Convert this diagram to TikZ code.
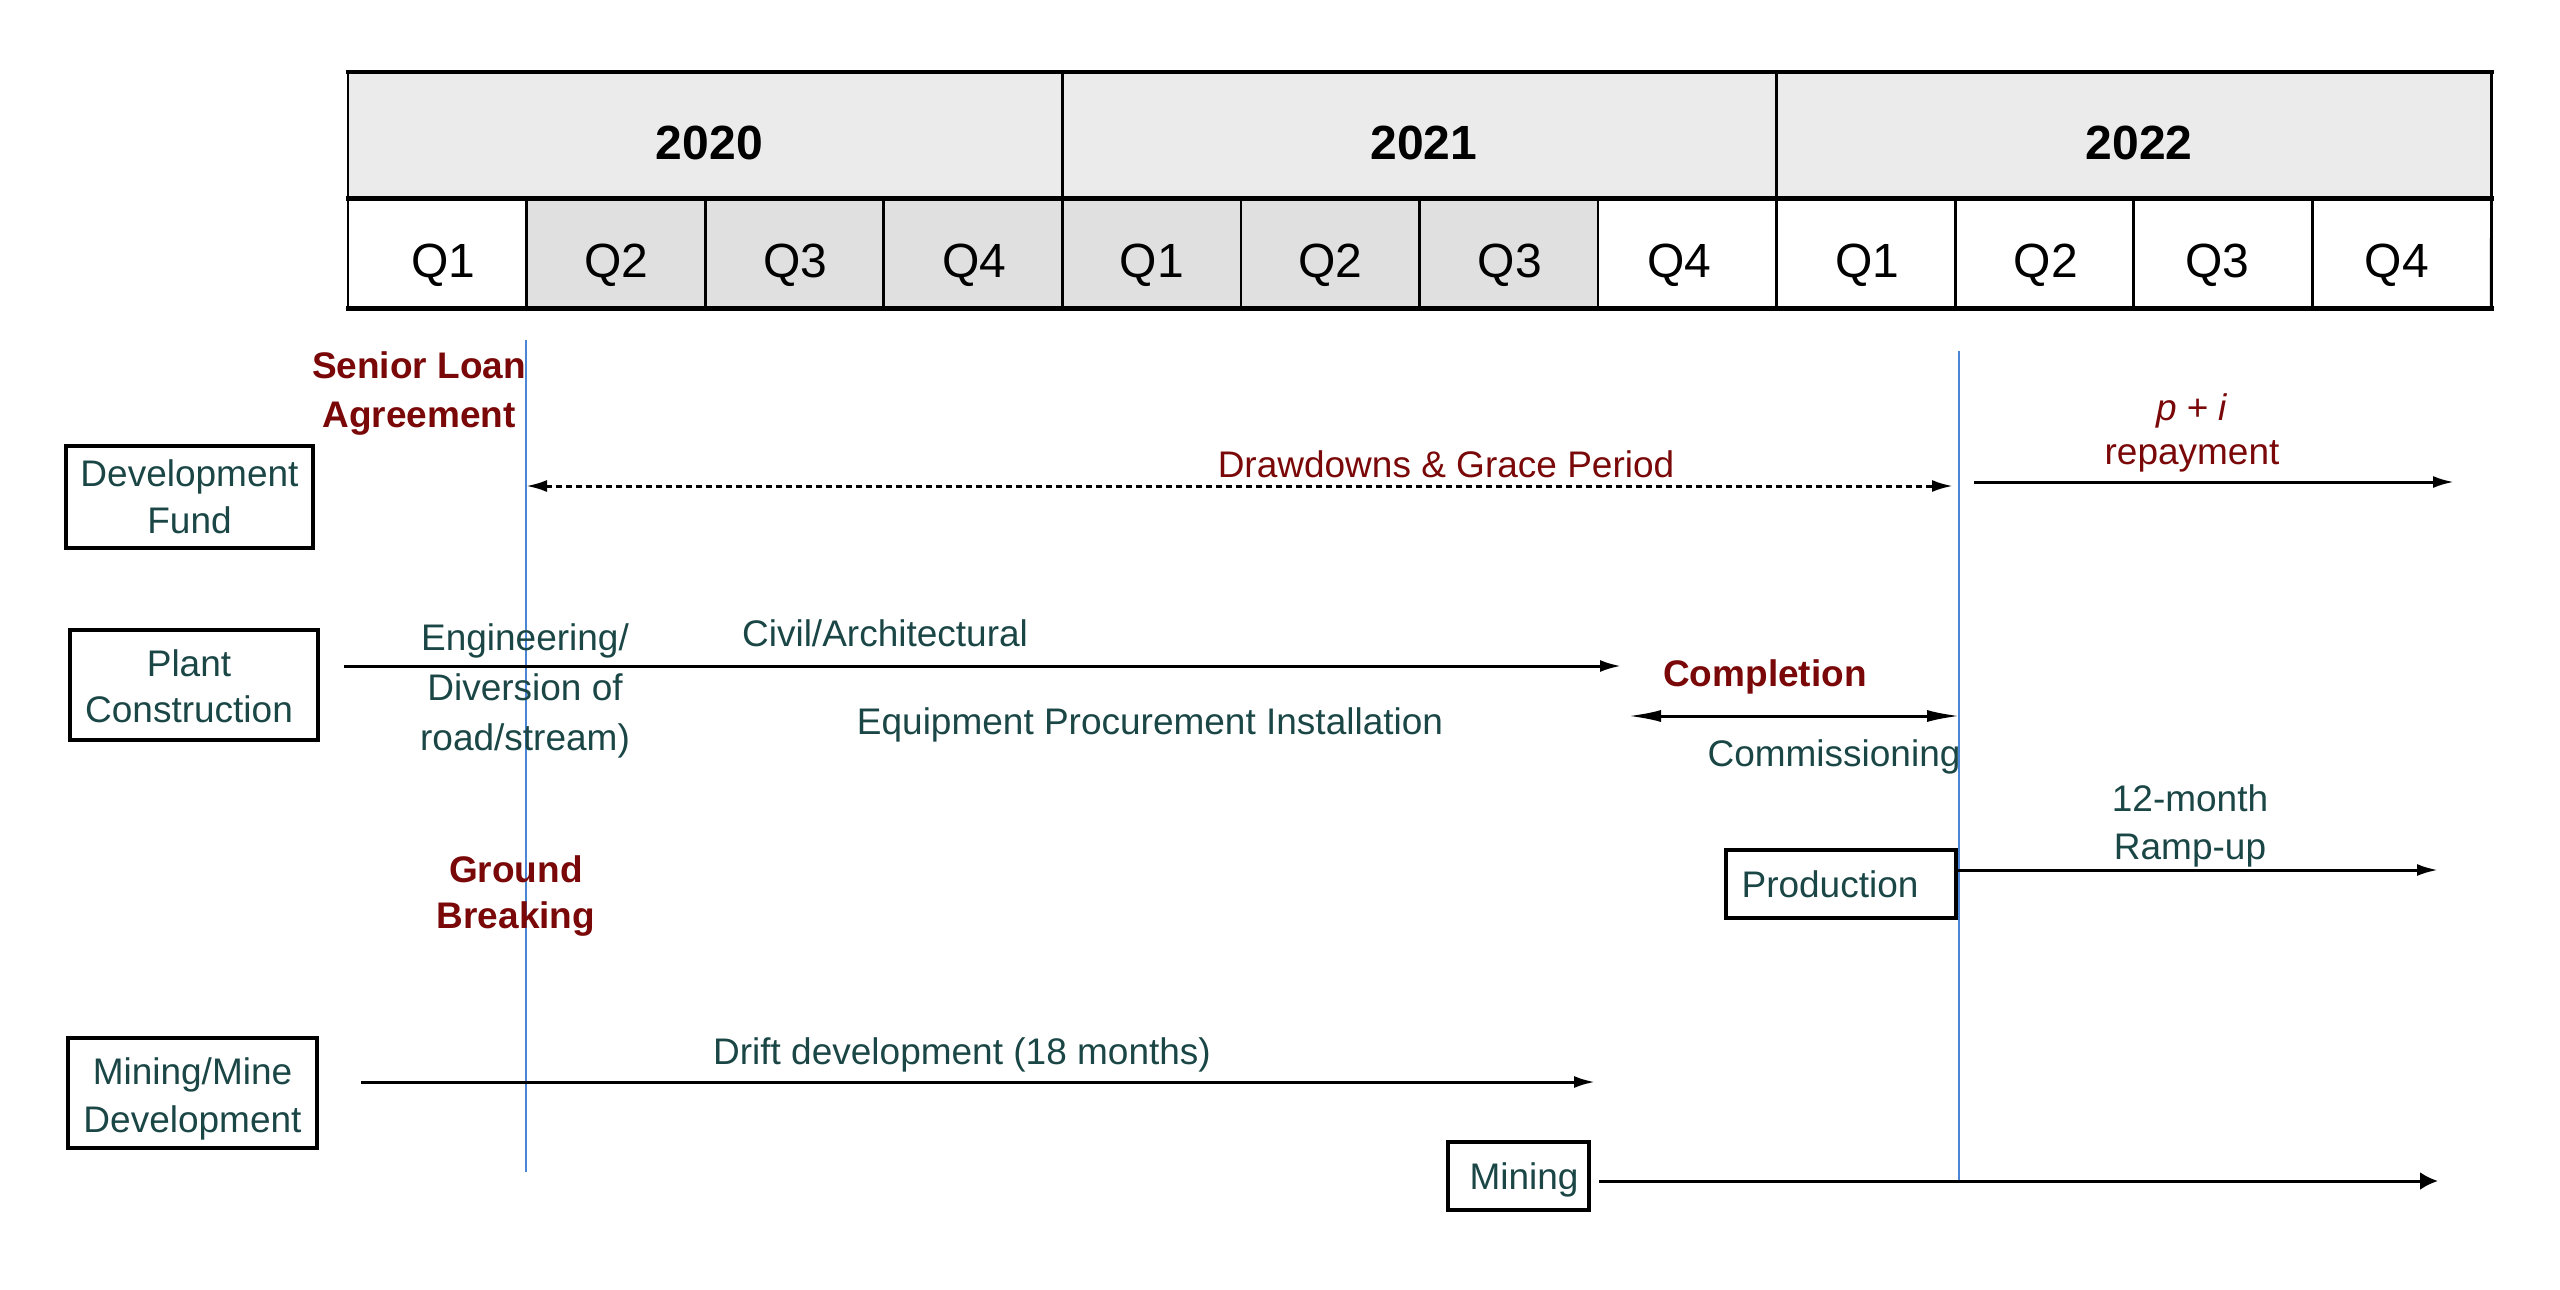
\documentclass[tikz,border=0pt]{standalone}
\usepackage{fontspec}
\setmainfont{Liberation Sans}
\usetikzlibrary{arrows.meta,calc}
\definecolor{teal1}{HTML}{1B4646}
\definecolor{dred}{HTML}{7A0808}
\definecolor{bline}{HTML}{4A85D6}
\definecolor{yfill}{HTML}{EBEBEB}
\definecolor{qfill}{HTML}{E0E0E0}
\begin{document}
\begin{tikzpicture}[x=1pt,y=-1pt,
  bodyfont/.style={font=\fontsize{37}{46}\selectfont},
  txt/.style={bodyfont, text=teal1, inner sep=0pt, align=center},
  redtxt/.style={bodyfont, text=dred, inner sep=0pt, align=center},
  redbold/.style={text=dred, inner sep=0pt, align=center, font=\fontsize{37}{49}\selectfont\bfseries},
  box/.style={draw=black, line width=3.5pt, text=teal1, inner sep=0pt, align=center},
  ycell/.style={inner sep=0pt, anchor=north west, minimum width=714.33pt, minimum height=126pt, fill=yfill},
  qcell/.style={inner sep=0pt, anchor=north west, minimum width=178.58pt, minimum height=110pt},
  ylabel/.style={inner sep=0pt, font=\fontsize{48}{58}\selectfont\bfseries},
  qlabel/.style={inner sep=0pt, font=\fontsize{48}{58}\selectfont},
  hline/.style={line width=4.5pt, line cap=rect},
  vline/.style={line width=2.8pt},
  blueline/.style={draw=bline, line width=2pt},
  arr/.style={line width=3pt, -{Latex[length=21pt,width=12pt]}},
  bigarr/.style={line width=3pt, -{Latex[length=18pt,width=18pt]}},
  dblarr/.style={line width=3pt, {Latex[length=33pt,width=12pt]}-{Latex[length=33pt,width=12pt]}},
  dotarr/.style={line width=3pt, dash pattern=on 6pt off 4pt, {Latex[length=21pt,width=12pt]}-{Latex[length=21pt,width=12pt]}}
]
\useasboundingbox (0,0) rectangle (2560,1290);

% header
\node[ycell] (y2020) at (348,72) {};
\node[ycell] (y2021) at (1062.33,72) {};
\node[ycell] (y2022) at (1776.67,72) {};
\foreach \i/\f in {1/white,2/qfill,3/qfill,4/qfill,5/qfill,6/qfill,7/qfill,8/white,9/white,10/white,11/white,12/white}
  \node[qcell, fill=\f] (q\i) at ({348+(\i-1)*178.58},198) {};
\node[ylabel] (yl2020) at ($(y2020.center)+(4,8)$) {2020};
\node[ylabel] (yl2021) at ($(y2021.center)+(4,8)$) {2021};
\node[ylabel] (yl2022) at ($(y2022.center)+(5,8)$) {2022};
\foreach \i/\l/\dx in {1/Q1/6,2/Q2/0,3/Q3/1,4/Q4/1,5/Q1/0,6/Q2/0,7/Q3/1,8/Q4/-8,9/Q1/1,10/Q2/1,11/Q3/-6,12/Q4/-5}
  \node[qlabel] (ql\i) at ($(q\i.center)+(\dx,12)$) {\l};
\foreach \i in {2,...,12}
  \draw[vline] (q\i.north west) -- (q\i.south west);
\draw[vline] (y2021.north west) -- (y2021.south west);
\draw[vline] (y2022.north west) -- (y2022.south west);
\draw[vline] (y2020.north west) -- (q1.south west);
\draw[vline] (y2022.north east) -- (q12.south east);
\draw[hline] (y2020.north west) -- (y2022.north east);
\draw[hline] (y2020.south west) -- (y2022.south east);
\draw[hline] (q1.south west) -- (q12.south east);

% milestone lines
\coordinate (sla) at (526,340);
\coordinate (slb) at (526,1172);
\coordinate (cpa) at (1959,351);
\coordinate (cpb) at (1959,1181);
\draw[blueline] (sla) -- (slb);
\draw[blueline] (cpa) -- (cpb);

% row boxes
\node[box, font=\fontsize{37}{47}\selectfont, minimum width=247pt, minimum height=102pt] (devfund) at (189.5,497) {Development\\Fund};
\node[box, minimum width=248pt, minimum height=110pt] (plant) at (194,685) {};
\node[txt] (planttxt) at (189,686) {Plant\\Construction};
\node[box, minimum width=249pt, minimum height=110pt] (minedev) at (192.5,1093) {};
\node[txt, font=\fontsize{37}{48}\selectfont] (minedevtxt) at (192.5,1099) {Mining/Mine\\Development};
\node[box, minimum width=230pt, minimum height=68pt] (prod) at (1841,884) {};
\node[txt] (prodtxt) at (1830,884) {Production};
\node[box, minimum width=141pt, minimum height=68pt] (mining) at (1518.5,1176) {};
\node[txt] (miningtxt) at (1524,1180) {Mining};

% labels
\node[redbold] (senior) at (419,394) {Senior Loan\\Agreement};
\node[redtxt] (draw) at (1446,464) {Drawdowns \& Grace Period};
\node[redtxt, font=\fontsize{37}{44}\selectfont] (pi) at (2192,433) {\textit{p} + \textit{i}\\repayment};
\node[txt, font=\fontsize{37}{50}\selectfont] (eng) at (525,691) {Engineering/\\Diversion of\\road/stream)};
\node[txt] (civil) at (885,633) {Civil/Architectural};
\node[txt] (equip) at (1150,725) {Equipment Procurement Installation};
\node[redbold] (compl) at (1765,677) {Completion};
\node[txt] (comm) at (1834,757) {Commissioning};
\node[txt, font=\fontsize{37}{48}\selectfont] (ramp) at (2190,826) {12-month\\Ramp-up};
\node[redbold, font=\fontsize{37}{46}\selectfont\bfseries] (ground) at (516,896) {Ground\\Breaking};
\node[txt] (drift) at (962,1055) {Drift development (18 months)};

% arrows
\coordinate (dd1) at (526,486);
\coordinate (dd2) at (1953,486);
\draw[dotarr] (dd1) -- (dd2);
\coordinate (rp1) at (1974,482);
\coordinate (rp2) at (2454,482);
\draw[arr] (rp1) -- (rp2);
\coordinate (pc1) at (344,666);
\coordinate (pc2) at (1621,666);
\draw[arr] (pc1) -- (pc2);
\coordinate (cm1) at (1628,716);
\coordinate (cm2) at (1960,716);
\draw[dblarr] (cm1) -- (cm2);
\coordinate (ru1) at (1958,870);
\coordinate (ru2) at (2438,870);
\draw[arr] (ru1) -- (ru2);
\coordinate (md1) at (361,1082);
\coordinate (md2) at (1595,1082);
\draw[arr] (md1) -- (md2);
\coordinate (mn1) at (1599,1181);
\coordinate (mn2) at (2438,1181);
\draw[bigarr] (mn1) -- (mn2);
\end{tikzpicture}
\end{document}
